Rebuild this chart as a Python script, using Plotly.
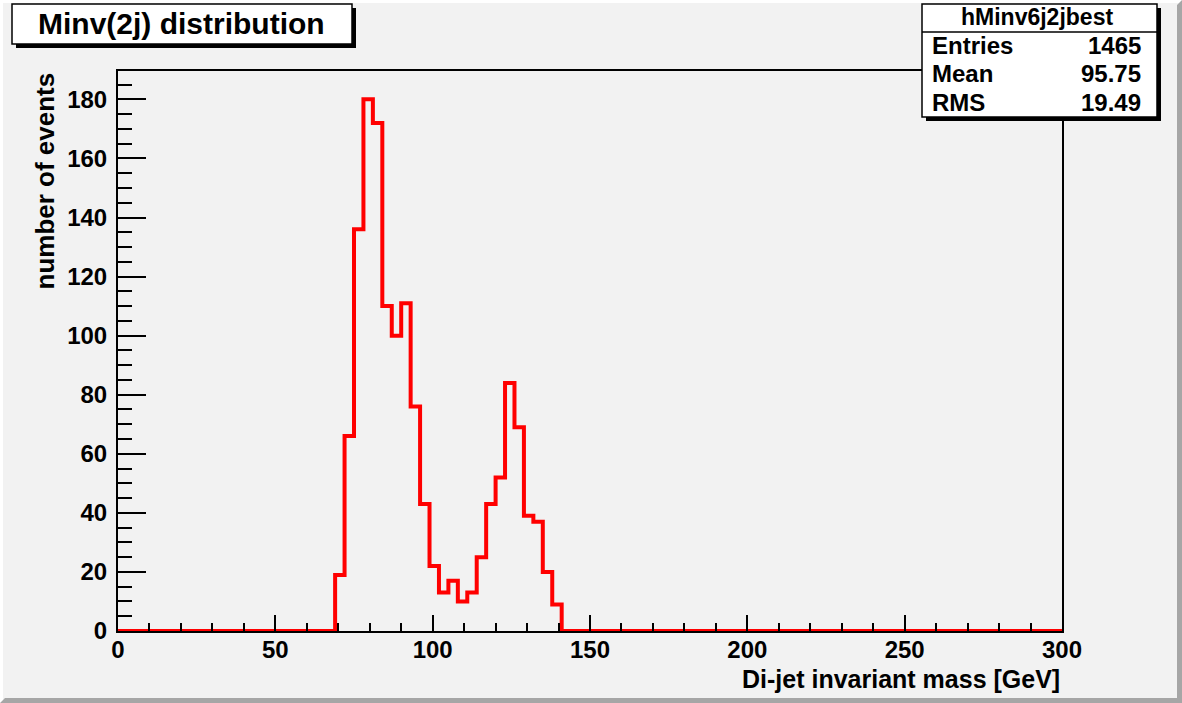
import plotly.graph_objects as go

# ---------------- data ----------------
x_min = 0
x_max = 300
bin_width = 3
n_leading_empty = 23          # bins 0..69 GeV are empty
nonzero_counts = [19, 66, 136, 180, 172, 110, 100, 111, 76, 43, 22, 13,
                  17, 10, 13, 25, 43, 52, 84, 69, 39, 37, 20, 9]
n_bins = (x_max - x_min) // bin_width
counts = [0] * n_leading_empty + nonzero_counts
counts = counts + [0] * (n_bins - len(counts))
edges = [x_min + i * bin_width for i in range(n_bins + 1)]

title_text = "Minv(2j) distribution"
stats_name = "hMinv6j2jbest"
stats_rows = [("Entries", "1465"), ("Mean", "95.75"), ("RMS", "19.49")]
x_title = "Di-jet invariant mass [GeV]"
y_title = "number of events"

# ---------------- layout geometry (pixels) ----------------
W, H = 1182, 703
L, R, T, B = 118, 1062, 71, 631


def px(x):
    return (x - L) / (R - L)


def py(y):
    return (B - y) / (B - T)


FONT = "Liberation Sans"

fig = go.Figure()
fig.add_trace(go.Scatter(
    x=edges, y=counts + [counts[-1]],
    mode="lines", line=dict(color="#ff0000", width=4, shape="hv"),
    cliponaxis=False, hoverinfo="skip", showlegend=False))

shapes = []
# canvas bevel border
shapes.append(dict(type="rect", xref="paper", yref="paper",
                   x0=px(0), x1=px(W), y0=py(0), y1=py(3),
                   fillcolor="#ffffff", line=dict(width=0), layer="below"))
shapes.append(dict(type="rect", xref="paper", yref="paper",
                   x0=px(0), x1=px(3), y0=py(0), y1=py(H),
                   fillcolor="#ffffff", line=dict(width=0), layer="below"))
shapes.append(dict(type="path", xref="paper", yref="paper",
                   path=f"M {px(W)},{py(0)} L {px(W)},{py(H)} L {px(0)},{py(H)} "
                        f"L {px(5)},{py(H-5)} L {px(W-5)},{py(H-5)} L {px(W-5)},{py(5)} Z",
                   fillcolor="#a6a6a6", line=dict(width=0), layer="below"))

# title box with shadow
shapes.append(dict(type="rect", xref="paper", yref="paper",
                   x0=px(16), x1=px(356), y0=py(48), y1=py(8),
                   fillcolor="#000000", line=dict(width=0), layer="above"))
shapes.append(dict(type="rect", xref="paper", yref="paper",
                   x0=px(12), x1=px(352), y0=py(44), y1=py(4),
                   fillcolor="#ffffff", line=dict(color="#000000", width=1.5), layer="above"))

# stats box with shadow
shapes.append(dict(type="rect", xref="paper", yref="paper",
                   x0=px(926), x1=px(1161), y0=py(121), y1=py(8),
                   fillcolor="#000000", line=dict(width=0), layer="above"))
shapes.append(dict(type="rect", xref="paper", yref="paper",
                   x0=px(922), x1=px(1157), y0=py(117), y1=py(4),
                   fillcolor="#ffffff", line=dict(color="#000000", width=1.5), layer="above"))
shapes.append(dict(type="line", xref="paper", yref="paper",
                   x0=px(922), x1=px(1157), y0=py(32), y1=py(32),
                   line=dict(color="#000000", width=1.5), layer="above"))

annotations = []
annotations.append(dict(text=title_text, xref="paper", yref="paper",
                        x=px(181), y=py(23), xanchor="center", yanchor="middle",
                        showarrow=False,
                        font=dict(family=FONT, size=30, color="#000000", weight="bold")))
annotations.append(dict(text=stats_name, xref="paper", yref="paper",
                        x=px(1037), y=py(17), xanchor="center", yanchor="middle",
                        showarrow=False,
                        font=dict(family=FONT, size=23, color="#000000", weight="bold")))
row_y = [46, 74, 102]
for (lab, val), yy in zip(stats_rows, row_y):
    annotations.append(dict(text=lab, xref="paper", yref="paper",
                            x=px(930), y=py(yy), xanchor="left", yanchor="middle",
                            showarrow=False,
                            font=dict(family=FONT, size=24, color="#000000", weight="bold")))
    annotations.append(dict(text=val, xref="paper", yref="paper",
                            x=px(1143), y=py(yy), xanchor="right", yanchor="middle",
                            showarrow=False,
                            font=dict(family=FONT, size=24, color="#000000", weight="bold")))
annotations.append(dict(text=x_title, xref="paper", yref="paper",
                        x=1.0, y=py(679), xanchor="right", yanchor="middle",
                        showarrow=False,
                        font=dict(family=FONT, size=25, color="#000000", weight="bold")))
annotations.append(dict(text=y_title, xref="paper", yref="paper",
                        x=px(44), y=1.0, xanchor="center", yanchor="top",
                        textangle=-90, showarrow=False,
                        font=dict(family=FONT, size=26, color="#000000", weight="bold")))

tickfont = dict(family=FONT, size=24, color="#000000", weight="bold")

fig.update_layout(
    width=W, height=H,
    margin=dict(l=L, r=W - R, t=T, b=H - B, pad=0),
    paper_bgcolor="#f2f2f2", plot_bgcolor="#f2f2f2",
    shapes=shapes, annotations=annotations,
    showlegend=False,
    xaxis=dict(range=[x_min, x_max], showgrid=False, zeroline=False,
               showline=True, linecolor="#000000", linewidth=2, mirror=True,
               ticks="inside", ticklen=16, tickwidth=1.5, tickcolor="#000000",
               tick0=0, dtick=50, tickfont=tickfont, ticklabelstandoff=-4,
               minor=dict(ticks="inside", dtick=10, ticklen=8, tickwidth=1.5,
                          tickcolor="#000000", showgrid=False)),
    yaxis=dict(range=[0, 189.6], showgrid=False, zeroline=False,
               showline=True, linecolor="#000000", linewidth=2, mirror=True,
               ticks="inside", ticklen=28, tickwidth=1.5, tickcolor="#000000",
               tick0=0, dtick=20, tickfont=tickfont, ticklabelstandoff=4,
               minor=dict(ticks="inside", dtick=5, ticklen=14, tickwidth=1.5,
                          tickcolor="#000000", showgrid=False)),
)

fig.write_html("out.html")
